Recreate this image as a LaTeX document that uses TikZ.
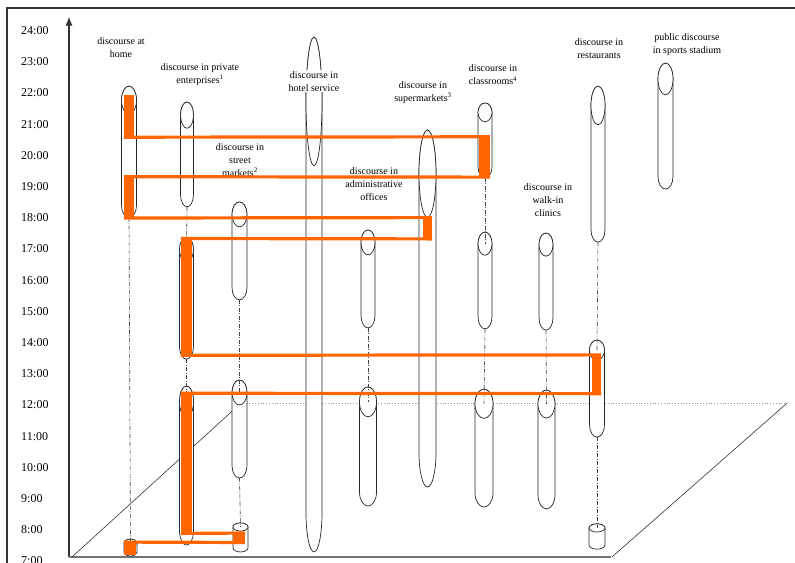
\documentclass[tikz,border=0pt]{standalone}
\usepackage{fontspec}
\setmainfont{Liberation Serif}
\usetikzlibrary{arrows.meta,fit}
\definecolor{dayroute}{RGB}{255,102,0}
% tube: name, x, top, bottom, half width, top cap, bottom cap
\newcommand{\drawtube}[7]{%
  \draw[tube] (#2-#5,#3-#6) -- (#2-#5,#4+#7)
    arc[start angle=180,end angle=360,x radius=#5,y radius=#7]
    -- (#2+#5,#3-#6)
    arc[start angle=0,end angle=180,x radius=#5,y radius=#6] -- cycle;
  \draw[tube] (#2,#3-#6) ellipse[x radius=#5,y radius=#6];
  \coordinate (#1-top) at (#2,#3-#6);
  \coordinate (#1-bot) at (#2,#4);
}
\begin{document}
\begin{tikzpicture}[x=1pt,y=31.2pt,
  tube/.style={draw=black!85,line width=0.7pt,fill=white},
  link/.style={draw=black!75,line width=0.6pt,dash pattern=on 4pt off 1.5pt on 1pt off 1.5pt},
  place/.style={font=\fontsize{10}{13}\selectfont,align=center,fill=white,inner sep=1pt},
  bar/.style={fill=dayroute,inner sep=0pt},
  move/.style={draw=dayroute,line width=3.2pt}]
  \useasboundingbox (0,6.968) rectangle (795,24.981);
  \draw[black!80,line width=1.5pt] (7,6.8) -- (7,24.72) -- (796,24.72);
  % time axis
  \foreach \h in {7,...,24}
    \node[anchor=west,inner sep=0pt,font=\fontsize{12}{14}\selectfont] (t\h) at (21,\h) {\h:00};
  \draw[-{Latex[length=9pt,width=7pt]},black!80,line width=1.1pt] (69,7.13) -- (69,24.45);
  % floor
  \draw[black!55,line width=1.3pt] (69,7.13) -- (611,7.13);
  \draw[black!80,line width=0.6pt] (72,7.13) -- (241,12.06);
  \draw[black!80,line width=0.6pt] (612,7.13) -- (787,12.06);
  \draw[black!40,dotted,line width=0.8pt] (241,12.06) -- (787,12.06);
  % places
  \drawtube{home1}{129}{22.22}{18.00}{7.5}{0.45}{0.4}
  \drawtube{home2}{130.5}{7.70}{7.16}{6.5}{0.12}{0.12}
  \drawtube{ent1}{187}{21.71}{18.35}{6.5}{0.42}{0.4}
  \drawtube{ent2}{186.5}{17.38}{13.47}{7}{0.4}{0.4}
  \drawtube{ent3}{186.5}{12.61}{7.51}{7}{0.5}{0.45}
  \drawtube{street1}{239.5}{18.51}{15.37}{7.5}{0.4}{0.4}
  \drawtube{street2}{239.5}{12.80}{9.66}{7.5}{0.4}{0.4}
  \drawtube{street3}{240.5}{8.22}{7.29}{7.5}{0.13}{0.13}
  \drawtube{hotel}{314}{23.79}{7.29}{8}{2.06}{1.25}
  \drawtube{admin1}{368}{17.61}{14.47}{7}{0.4}{0.4}
  \drawtube{admin2}{368}{12.58}{8.76}{8.5}{0.48}{0.45}
  \drawtube{super}{427.5}{20.81}{9.37}{8.5}{1.40}{1.1}
  \drawtube{class1}{485}{21.68}{19.28}{7}{0.3}{0.35}
  \drawtube{class2}{485}{17.54}{14.44}{7}{0.37}{0.4}
  \drawtube{class3}{484}{12.51}{8.73}{9}{0.47}{0.45}
  \drawtube{clinic1}{546}{17.51}{14.40}{7}{0.37}{0.4}
  \drawtube{clinic2}{546.5}{12.48}{8.67}{8.5}{0.45}{0.45}
  \drawtube{rest1}{598}{22.22}{17.22}{7}{0.62}{0.4}
  \drawtube{rest2}{597}{14.08}{10.97}{7.5}{0.32}{0.4}
  \drawtube{rest3}{597}{8.19}{7.38}{8}{0.13}{0.13}
  \drawtube{stadium}{665.5}{22.96}{18.92}{7.5}{0.51}{0.4}
  % labels
  \node[place] (lHome) at (121,23.44) {discourse at\\home};
  \node[place] (lEnt) at (200,22.59) {discourse in private\\enterprises\textsuperscript{1}};
  \node[place] (lStreet) at (240,19.85) {discourse in\\street\\markets\textsuperscript{2}};
  \node[place] (lHotel) at (314,22.37) {discourse in\\hotel service};
  \node[place] (lSuper) at (423,22.02) {discourse in\\supermarkets\textsuperscript{3}};
  \node[place] (lClass) at (493,22.58) {discourse in\\classrooms\textsuperscript{4}};
  \node[place] (lAdmin) at (374,19.08) {discourse in\\administrative\\offices};
  \node[place] (lClinic) at (548,18.57) {discourse in\\walk-in\\clinics};
  \node[place] (lRest) at (599,23.43) {discourse in\\restaurants};
  \node[place] (lStad) at (687,23.55) {public discourse\\in sports stadium};
  % same place, later time
  \draw[link] (home1-bot) -- (home2-top);
  \draw[link] (ent1-bot) -- (ent2-top);
  \draw[link] (ent2-bot) -- (ent3-top);
  \draw[link] (street1-bot) -- (street2-top);
  \draw[link] (street2-bot) -- (street3-top);
  \draw[link] (admin1-bot) -- (admin2-top);
  \draw[link] (class1-bot) -- (class2-top);
  \draw[link] (class2-bot) -- (class3-top);
  \draw[link] (clinic1-bot) -- (clinic2-top);
  \draw[link] (rest1-bot) -- (rest2-top);
  \draw[link] (rest2-bot) -- (rest3-top);
  % one day
  \node[bar,fit={(124,21.92) (134,20.59)}] (vHome1) {};
  \node[bar,fit={(479,20.59) (490,19.31)}] (vClass) {};
  \node[bar,fit={(124,19.31) (134,18.00)}] (vHome2) {};
  \node[bar,fit={(423,18.00) (432,17.33)}] (vSuper) {};
  \node[bar,fit={(181,17.33) (192,13.60)}] (vEnt1) {};
  \node[bar,fit={(592,13.60) (601,12.37)}] (vRest) {};
  \node[bar,fit={(181,12.37) (192,7.89)}] (vEnt2) {};
  \node[bar,fit={(233,7.89) (245,7.60)}] (vStreet) {};
  \node[bar,fit={(124,7.60) (136,7.18)}] (vHome3) {};
  \draw[move] (vHome1.south west) -- (vClass.north east);
  \draw[move] (vClass.south east) -- (vHome2.north west);
  \draw[move] (vHome2.south west) -- (vSuper.north east);
  \draw[move] (vSuper.south east) -- (vEnt1.north west);
  \draw[move] (vEnt1.south west) -- (vRest.north east);
  \draw[move] (vRest.south east) -- (vEnt2.north west);
  \draw[move] (vEnt2.south west) -- (vStreet.north east);
  \draw[move] (vStreet.south east) -- (vHome3.north west);
\end{tikzpicture}
\end{document}
